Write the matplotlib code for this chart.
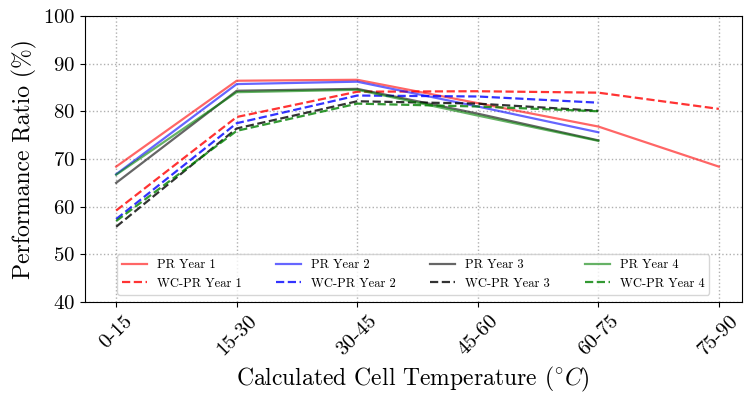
import matplotlib
matplotlib.use("Agg")
import matplotlib.pyplot as plt
import numpy as np

plt.rcParams['font.family'] = 'serif'
plt.rcParams['font.serif'] = ['cmr10']
plt.rcParams['mathtext.fontset'] = 'cm'
plt.rcParams['axes.formatter.use_mathtext'] = True

temp_bins = ['0-15', '15-30', '30-45', '45-60', '60-75', '75-90']
nan = np.nan

# performance ratio per temperature bin
pr_y1 = [68.4, 86.4, 86.6, 81.7, 76.8, 68.4]
pr_y2 = [66.8, 85.7, 86.2, 81.0, 75.6, nan]
pr_y3 = [65.0, 84.3, 84.7, 79.5, 73.9, nan]
pr_y4 = [66.7, 84.0, 84.5, 79.1, 73.8, nan]

# weather-corrected performance ratio
wc_y1 = [59.2, 78.8, 84.1, 84.2, 83.9, 80.5]
wc_y2 = [57.4, 77.5, 83.3, 83.1, 81.8, nan]
wc_y3 = [55.8, 76.4, 82.1, 81.6, 80.1, nan]
wc_y4 = [57.0, 75.9, 81.6, 81.0, 80.0, nan]

x = np.arange(len(temp_bins))

fig = plt.figure(figsize=(7.44, 3.96), dpi=100)
ax = fig.add_axes([0.114, 0.237, 0.883, 0.723])

cols = ['red', 'blue', 'black', 'green']
pr = [pr_y1, pr_y2, pr_y3, pr_y4]
wc = [wc_y1, wc_y2, wc_y3, wc_y4]
for i in range(4):
    ax.plot(x, pr[i], color=cols[i], alpha=0.6, lw=1.6, label='PR Year %d' % (i + 1))
    ax.plot(x, wc[i], color=cols[i], alpha=0.8, lw=1.6, ls='--', label='WC-PR Year %d' % (i + 1))

ax.set_xlim(-0.26, 5.19)
ax.set_ylim(40, 100)
ax.set_xticks(x)
ax.set_xticklabels(temp_bins, rotation=45, fontsize=15)
ax.tick_params(axis='y', labelsize=15)
ax.grid(True, ls=':', lw=1, color='#b0b0b0')
ax.set_xlabel(r'Calculated Cell Temperature ($^{\circ}C$)', fontsize=17)
ax.set_ylabel('Performance Ratio (%)', fontsize=17)

ax.legend(ncol=4, loc='lower center', fontsize=9, columnspacing=2.75,
          handlelength=2.0, borderaxespad=0.6, bbox_to_anchor=(0.5, 0.0))

fig.savefig('out.png', dpi=100)
